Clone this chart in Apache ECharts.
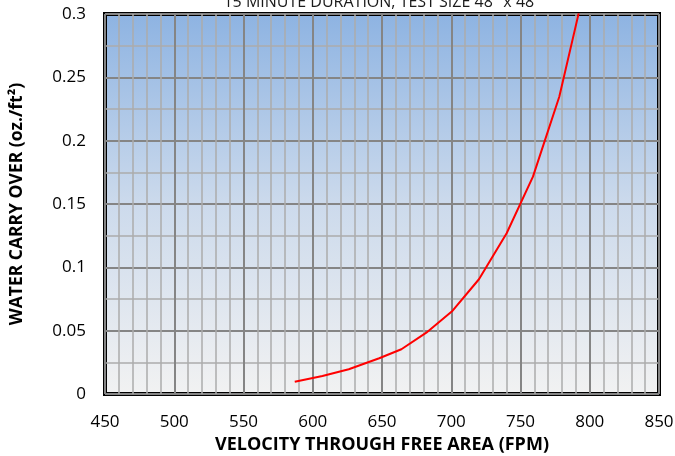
<!DOCTYPE html>
<html>
<head>
<meta charset="utf-8">
<script src="https://cdn.jsdelivr.net/npm/echarts@6/dist/echarts.min.js"></script>
<style>
html,body{margin:0;padding:0;background:#fff;}
#c{width:675px;height:456px;}
</style>
</head>
<body>
<div id="c"></div>
<script>
var velocity = [587, 607, 626, 648, 664, 682, 701, 720, 740, 759, 778, 792];
var carryOver = [0.0097, 0.0142, 0.0195, 0.0282, 0.0353, 0.0484, 0.0658, 0.0906, 0.1269, 0.1716, 0.2347, 0.3005];
var titleText = '15 MINUTE DURATION, TEST SIZE 48" x 48"';
var xTitle = 'VELOCITY THROUGH FREE AREA (FPM)';
var yTitle = 'WATER CARRY OVER (oz./ft\u00B2)';

var data = velocity.map(function(v, i){ return [v, carryOver[i]]; });
var font = '"Open Sans", "Noto Sans", sans-serif';

var chart = echarts.init(document.getElementById('c'));
chart.setOption({
  animation: false,
  textStyle: {fontFamily: font},
  title: {
    text: titleText, left: 377, textAlign: 'center', top: -11,
    textStyle: {fontSize: 16, fontWeight: 'normal', color: '#1a1a1a', fontFamily: font}
  },
  grid: {
    left: 105, right: 16, top: 14, bottom: 62,
    outerBoundsMode: 'none',
    containLabel: false,
    show: true,
    borderColor: '#000', borderWidth: 4,
    backgroundColor: {
      type: 'linear', x: 0, y: 0, x2: 0, y2: 1,
      colorStops: [
        {offset: 0, color: '#8DB3E2'},
        {offset: 0.5, color: '#CCDAEC'},
        {offset: 1, color: '#F2F2F2'}
      ]
    }
  },
  xAxis: {
    type: 'value', min: 450, max: 850, interval: 50,
    name: xTitle, nameLocation: 'middle', nameGap: 42,
    nameTextStyle: {fontSize: 18, fontWeight: 'bold', color: '#000', fontFamily: font},
    axisLine: {show: false}, axisTick: {show: false},
    axisLabel: {fontSize: 17, color: '#000', margin: 20, fontFamily: font},
    splitLine: {show: true, lineStyle: {color: '#858585', width: 2}},
    minorTick: {show: false, splitNumber: 5},
    minorSplitLine: {show: true, lineStyle: {color: '#ACACAC', width: 1.5}}
  },
  yAxis: {
    type: 'value', min: 0, max: 0.3, interval: 0.05,
    name: yTitle, nameLocation: 'middle', nameGap: 79, nameRotate: 90,
    nameTextStyle: {fontSize: 17.5, fontWeight: 'bold', color: '#000', fontFamily: font},
    axisLine: {show: false}, axisTick: {show: false},
    axisLabel: {fontSize: 17, color: '#000', margin: 19, fontFamily: font},
    splitLine: {show: true, lineStyle: {color: '#858585', width: 2}},
    minorTick: {show: false, splitNumber: 2},
    minorSplitLine: {show: true, lineStyle: {color: '#ACACAC', width: 1.5}}
  },
  series: [{
    type: 'line', data: data, showSymbol: false, smooth: false,
    lineStyle: {color: '#FF0000', width: 2}, clip: true
  }]
});
</script>
</body>
</html>
